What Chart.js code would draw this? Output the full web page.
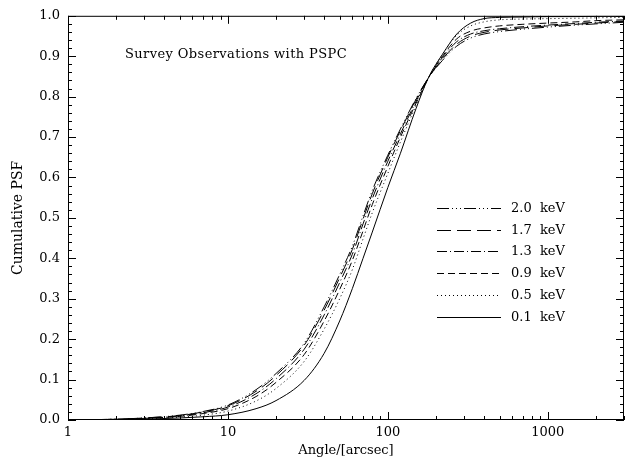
<!DOCTYPE html>
<html>
<head>
<meta charset="utf-8">
<script src="https://cdn.jsdelivr.net/npm/chart.js@4.4.0/dist/chart.umd.min.js"></script>
<style>
  html, body { margin: 0; padding: 0; background: #fff; }
</style>
</head>
<body>
<canvas id="psfChart" width="625" height="462"></canvas>
<script>
// angle grid in arcsec (x), cumulative PSF per energy (y)
const angles = [1, 2, 3, 5, 7, 10, 15, 20, 30, 40, 50, 60, 70, 80, 100, 120, 150, 180, 220, 270, 330, 400, 500, 700, 1000, 1500, 2000, 3000];

const psf20 = [0.000, 0.002, 0.005, 0.012, 0.021, 0.037, 0.075, 0.115, 0.190, 0.280, 0.360, 0.430, 0.505, 0.568, 0.655, 0.720, 0.795, 0.847, 0.890, 0.925, 0.945, 0.955, 0.961, 0.967, 0.972, 0.977, 0.980, 0.984];
const psf17 = [0.000, 0.002, 0.005, 0.011, 0.020, 0.035, 0.071, 0.110, 0.185, 0.272, 0.352, 0.422, 0.497, 0.560, 0.650, 0.716, 0.793, 0.847, 0.893, 0.930, 0.950, 0.959, 0.965, 0.970, 0.975, 0.979, 0.982, 0.986];
const psf13 = [0.000, 0.002, 0.004, 0.010, 0.018, 0.032, 0.065, 0.102, 0.175, 0.260, 0.340, 0.410, 0.485, 0.548, 0.640, 0.708, 0.788, 0.847, 0.897, 0.936, 0.955, 0.963, 0.968, 0.973, 0.977, 0.981, 0.984, 0.987];
const psf09 = [0.000, 0.001, 0.004, 0.009, 0.016, 0.028, 0.058, 0.093, 0.162, 0.245, 0.323, 0.395, 0.468, 0.533, 0.627, 0.700, 0.783, 0.847, 0.900, 0.943, 0.962, 0.970, 0.975, 0.979, 0.982, 0.985, 0.988, 0.990];
const psf05 = [0.000, 0.001, 0.003, 0.007, 0.012, 0.022, 0.047, 0.078, 0.145, 0.225, 0.300, 0.372, 0.448, 0.513, 0.610, 0.688, 0.778, 0.847, 0.905, 0.952, 0.975, 0.985, 0.990, 0.992, 0.993, 0.994, 0.995, 0.996];
const psf01 = [0.000, 0.001, 0.002, 0.005, 0.008, 0.013, 0.028, 0.048, 0.098, 0.165, 0.245, 0.325, 0.400, 0.465, 0.575, 0.660, 0.770, 0.848, 0.905, 0.955, 0.982, 0.993, 0.996, 0.997, 0.998, 0.998, 0.999, 0.999];

const energyLabels = ["2.0  keV", "1.7  keV", "1.3  keV", "0.9  keV", "0.5  keV", "0.1  keV"];
const series = [psf20, psf17, psf13, psf09, psf05, psf01];
const xTickValues = [1, 10, 100, 1000];

const lineDashes = [[12, 3, 1, 3, 1, 3, 1, 3], [14, 6], [10, 3, 1, 3], [7, 4], [1, 3], []];
const FONT = '"DejaVu Serif", serif';

// frame, inward ticks on all four sides, inset title and legend
const framePlugin = {
  id: "frame",
  afterDraw(chart) {
    const ctx = chart.ctx;
    const { left, right, top, bottom } = chart.chartArea;
    const xs = chart.scales.x, ys = chart.scales.y;
    ctx.save();
    ctx.strokeStyle = "#000";
    ctx.lineWidth = 1;
    ctx.setLineDash([]);
    ctx.strokeRect(left + 0.5, top + 0.5, right - left - 1, bottom - top - 1);

    ctx.beginPath();
    for (let d = 1; d <= 1000; d *= 10) {
      for (let k = 1; k <= 9; k++) {
        const v = d * k;
        if (v > 3000) break;
        const px = Math.round(xs.getPixelForValue(v)) + 0.5;
        const len = k === 1 ? 8 : 4;
        ctx.moveTo(px, bottom); ctx.lineTo(px, bottom - len);
        ctx.moveTo(px, top); ctx.lineTo(px, top + len);
      }
    }
    for (let i = 0; i <= 50; i++) {
      const py = Math.round(ys.getPixelForValue(i * 0.02)) + 0.5;
      const len = i % 5 === 0 ? 8 : 4;
      ctx.moveTo(left, py); ctx.lineTo(left + len, py);
      ctx.moveTo(right, py); ctx.lineTo(right - len, py);
    }
    ctx.stroke();

    ctx.fillStyle = "#000";
    ctx.textBaseline = "middle";
    ctx.textAlign = "left";
    ctx.font = "13px " + FONT;
    if ("letterSpacing" in ctx) ctx.letterSpacing = "0.4px";
    ctx.fillText("Survey Observations with PSPC", 125, 55);
    if ("letterSpacing" in ctx) ctx.letterSpacing = "0px";

    chart.data.datasets.forEach((ds, i) => {
      const y = Math.round(208 + i * 21.7) + 0.5;
      ctx.beginPath();
      ctx.setLineDash(ds.borderDash);
      ctx.moveTo(437, y); ctx.lineTo(501, y);
      ctx.stroke();
      ctx.setLineDash([]);
      ctx.font = "13px " + FONT;
      ctx.fillText(ds.label, 511, y);
    });
    ctx.restore();
  }
};

new Chart(document.getElementById("psfChart"), {
  type: "line",
  data: {
    datasets: series.map((vals, i) => ({
      label: energyLabels[i],
      data: angles.map((a, j) => ({ x: a, y: vals[j] })),
      borderColor: "#000",
      borderWidth: 1,
      borderDash: lineDashes[i],
      pointRadius: 0,
      cubicInterpolationMode: "monotone",
      fill: false
    }))
  },
  options: {
    responsive: false,
    animation: false,
    devicePixelRatio: 1,
    layout: { padding: { top: 15, right: 1, left: 0, bottom: 0 } },
    plugins: { legend: { display: false }, tooltip: { enabled: false } },
    scales: {
      x: {
        type: "logarithmic",
        min: 1,
        max: 3000,
        afterBuildTicks: s => { s.ticks = xTickValues.map(v => ({ value: v })); },
        afterFit: s => { s.height = 42; },
        grid: { display: false, drawTicks: false },
        border: { display: false },
        ticks: {
          color: "#000",
          padding: 5,
          maxRotation: 0,
          font: { family: FONT, size: 13 },
          callback: v => String(v)
        },
        title: {
          display: true,
          text: "Angle/[arcsec]",
          color: "#000",
          font: { family: FONT, size: 13 },
          padding: { top: 0, bottom: 4 }
        }
      },
      y: {
        min: 0,
        max: 1,
        afterFit: s => { s.width = 68; },
        grid: { display: false, drawTicks: false },
        border: { display: false },
        ticks: {
          stepSize: 0.1,
          color: "#000",
          padding: 8,
          font: { family: FONT, size: 13 },
          callback: v => v.toFixed(1)
        },
        title: {
          display: true,
          text: "Cumulative PSF",
          color: "#000",
          font: { family: FONT, size: 14 },
          padding: { top: 10, bottom: 0 }
        }
      }
    }
  },
  plugins: [framePlugin]
});
</script>
</body>
</html>
